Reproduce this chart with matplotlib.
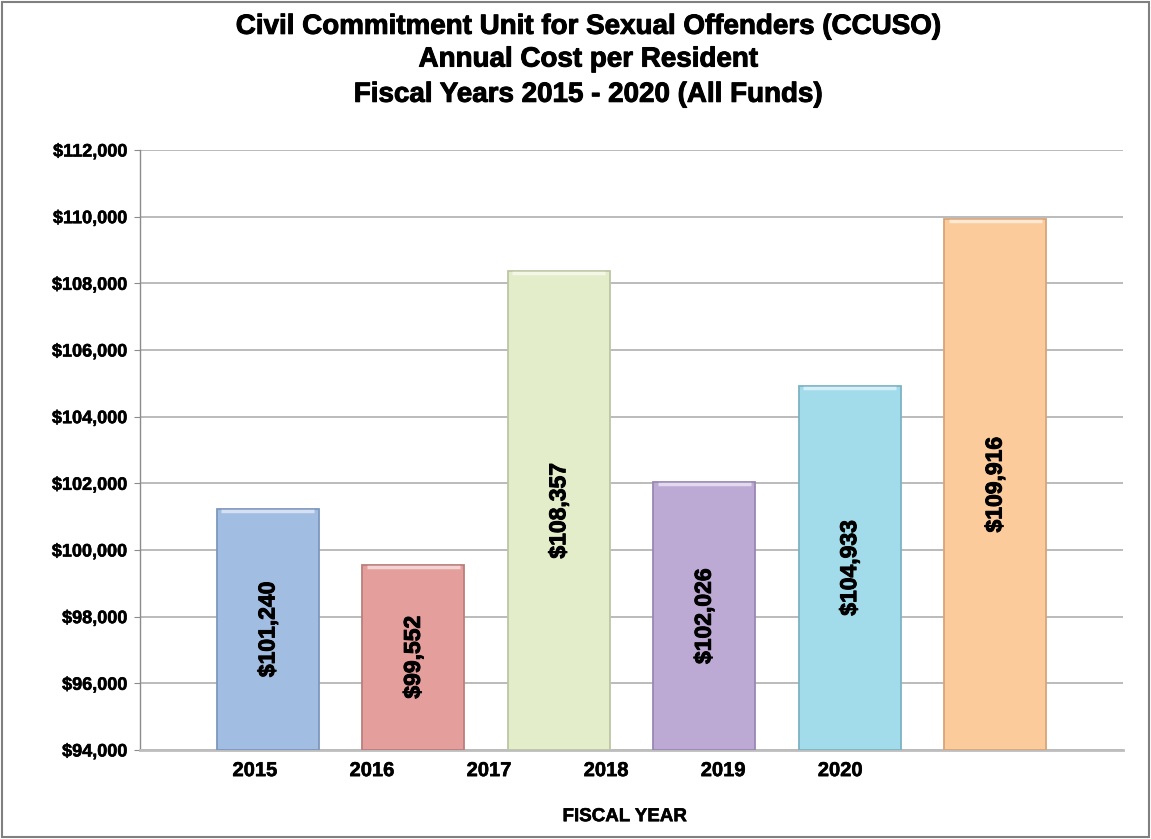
import numpy as np
import matplotlib
matplotlib.use("Agg")
import matplotlib.pyplot as plt
import matplotlib.patheffects as pe
from matplotlib.colors import to_rgb
from matplotlib.patches import Rectangle
from matplotlib.ticker import FuncFormatter

# data
years = ["2015", "2016", "2017", "2018", "2019", "2020"]
cost = [101240, 99552, 108357, 102026, 104933, 109916]
bar_colors = ["#A1BDE2", "#E49F9D", "#E3EDC9", "#BDAAD4", "#A2DBEA", "#FBCB9B"]
edge_colors = ["#7D97BD", "#B97F7D", "#BCC6A5", "#9A87B2", "#7DB3C4", "#D6A57C"]
y_ticks = np.arange(94000, 112001, 2000)

plt.rcParams['font.family'] = ['Liberation Sans', 'DejaVu Sans']

# slight stroke to make the bold text look heavier, like the original
heavy = [pe.withStroke(linewidth=0.7, foreground="black")]

fig = plt.figure(figsize=(11.51, 8.39), dpi=100)
ax = fig.add_axes([0.1216, 0.1061, 0.8541, 0.7151])

x = np.arange(len(years))
width = 0.70
bars = ax.bar(x, np.array(cost) - 94000, bottom=94000, width=width,
              color=bar_colors, edgecolor=edge_colors, linewidth=1.3, zorder=3)

# light bevel strip along the top of each bar
for xi, val, c in zip(x, cost, bar_colors):
    light = 0.45 * np.array(to_rgb(c)) + 0.55
    ax.plot([xi - width / 2 + 0.03, xi + width / 2 - 0.03], [val - 60, val - 60],
            color=light, linewidth=2.5, solid_capstyle="butt", zorder=3.5)

# values written sideways inside each bar
for xi, val in zip(x, cost):
    ax.text(xi, (val + 94000) / 2, "${:,}".format(val), rotation=90,
            ha="center", va="center", fontsize=16.5, fontweight="bold",
            path_effects=heavy, zorder=4)

ax.set_xlim(-0.88, len(years) - 1 + 0.88)
ax.set_ylim(94000, 112000)
ax.set_yticks(y_ticks)
ax.yaxis.set_major_formatter(FuncFormatter(lambda v, p: "${:,.0f}".format(v)))

# the year labels in the original do not line up with the bars
ax.set_xticks(-0.09 + 0.805 * x)
ax.set_xticklabels(years)

ax.grid(axis="y", color="#A8A8A8", linewidth=1.1, zorder=0)
ax.set_axisbelow(True)

for s in ["top", "right"]:
    ax.spines[s].set_visible(False)
ax.spines["left"].set_color("#8C8C8C")
ax.spines["left"].set_linewidth(1.0)
ax.spines["bottom"].set_color("#BDBDBD")
ax.spines["bottom"].set_linewidth(2.0)

ax.tick_params(axis="y", length=4, color="#8C8C8C", pad=5, labelsize=13)
ax.tick_params(axis="x", length=0, pad=8, labelsize=14.5)
for lab in ax.get_xticklabels() + ax.get_yticklabels():
    lab.set_fontweight("bold")
    lab.set_path_effects([pe.withStroke(linewidth=0.4, foreground="black")])

ax.set_xlabel("FISCAL YEAR", fontsize=13.5, fontweight="bold",
              path_effects=[pe.withStroke(linewidth=0.4, foreground="black")])
ax.xaxis.set_label_coords(0.493, -0.097)

# three line title
title_lines = ["Civil Commitment Unit for Sexual Offenders (CCUSO)",
               "Annual Cost per Resident",
               "Fiscal Years 2015 - 2020 (All Funds)"]
for line, ty in zip(title_lines, [0.968, 0.929, 0.887]):
    fig.text(0.511, ty, line, ha="center", va="center", fontsize=20,
             fontweight="bold", path_effects=heavy)

# outer frame around the chart
fig.patches.append(Rectangle((0.002, 0.002), 0.996, 0.996, transform=fig.transFigure,
                             fill=False, edgecolor="#808080", linewidth=1.5))

fig.savefig("out.png", dpi=100)
